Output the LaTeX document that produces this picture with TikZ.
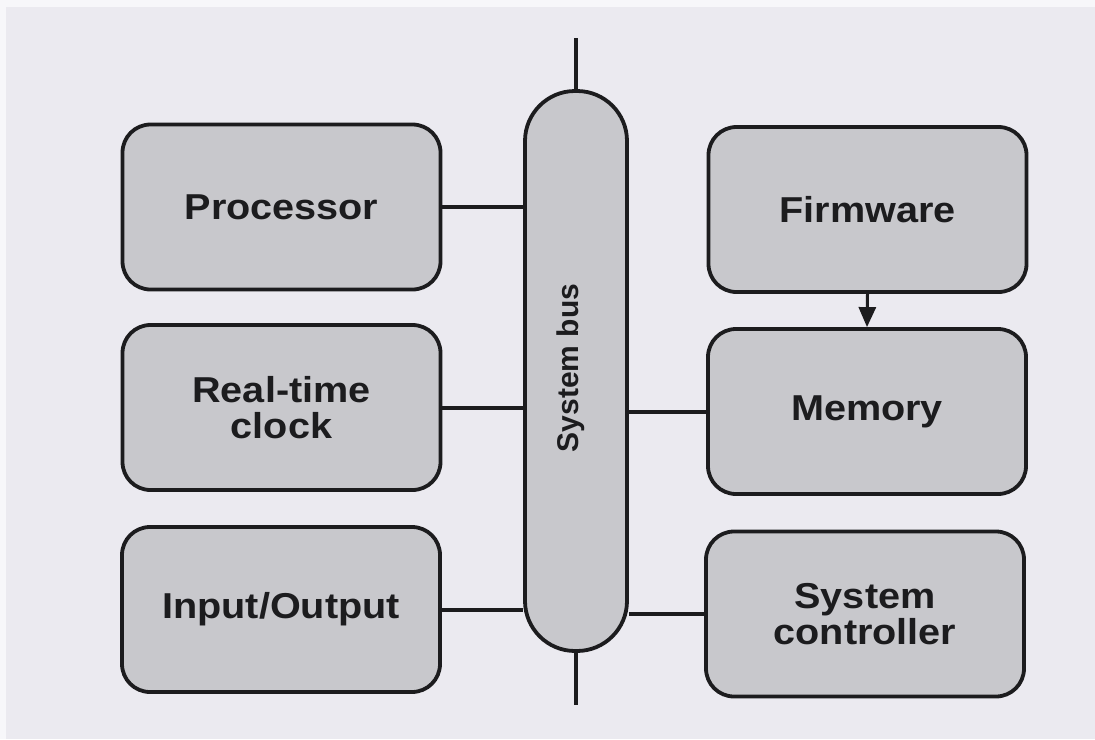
\documentclass[tikz,border=0pt]{standalone}
\usepackage{fontspec}
\setmainfont{Liberation Sans}
\newfontfamily\labelfont{Liberation Sans Bold}[FakeStretch=1.1]
\newfontfamily\busfont{Liberation Sans Bold}
\usetikzlibrary{arrows.meta,positioning}
\definecolor{paper}{RGB}{235,234,240}
\definecolor{paperedge}{RGB}{247,247,250}
\definecolor{boxgray}{RGB}{200,200,204}
\definecolor{inkblack}{RGB}{28,28,30}

\begin{document}
\begin{tikzpicture}[> = {Triangle[length=20pt,width=17pt]},x=1pt,y=-1pt,
	unit/.style={draw=inkblack,fill=boxgray,line width=3.8pt,rounded corners=28pt,
		minimum width=318pt,minimum height=165pt,inner sep=0pt,align=center,
		text=inkblack,font=\labelfont\fontsize{36}{36}\selectfont},
	buspill/.style={draw=inkblack,fill=boxgray,line width=3.8pt,rounded corners=50pt,
		minimum width=102pt,minimum height=560pt,inner sep=0pt},
	link/.style={draw=inkblack,line width=4pt}]
	% paper
	\useasboundingbox (0,0) rectangle (1095,739);
	\fill[paperedge] (0,0) rectangle (1095,739);
	\fill[paper] (6,7) rectangle (1095,739);

	% bus line ends
	\coordinate (bustop) at (576,38);
	\coordinate (busbot) at (576,705);

	% blocks left of the bus
	\node[unit] (proc) at (281.5,207) {Processor};
	\node[unit] (rtc) at (281.5,407.5) {Real-time\\clock};
	\node[unit] (io) at (281,609.5) {Input/Output};

	% blocks right of the bus
	\node[unit] (firm) at (867.5,209.5) {Firmware};
	\node[unit] (mem) at (867,411.5) {Memory};
	\node[unit] (ctrl) at (865,614) {System\\controller};

	% system bus
	\node[buspill] (bus) at (576,371) {};
	\node[rotate=90,text=inkblack,font=\busfont\fontsize{30}{32}\selectfont] (buslabel) at (571,368) {System bus};
	\draw[link] (bustop) -- (bus.north);
	\draw[link] (bus.south) -- (busbot);

	% connections
	\draw[link] (proc.east) -- (proc.east -| bus.west);
	\draw[link] (rtc.east) -- (rtc.east -| bus.west);
	\draw[link] (io.east) -- (io.east -| bus.west);
	\draw[link] (mem.west) -- (mem.west -| bus.east);
	\draw[link] (ctrl.west) -- (ctrl.west -| bus.east);
	\draw[->,draw=inkblack,fill=inkblack,line width=3pt] (firm.south) -- (mem.north);
\end{tikzpicture}
\end{document}
